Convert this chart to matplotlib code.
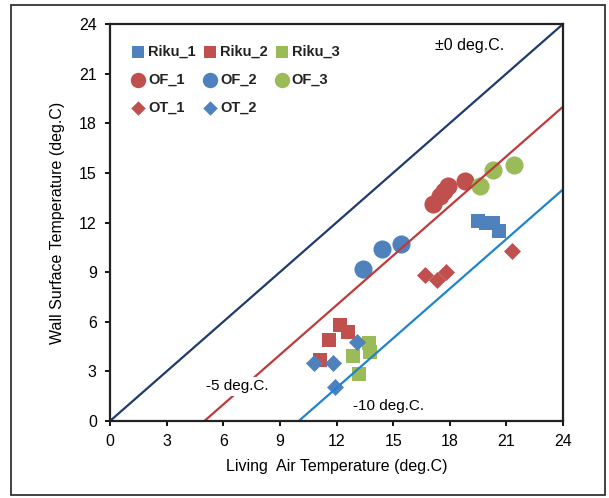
import matplotlib.pyplot as plt
from matplotlib.patches import Rectangle

plt.rcParams['font.family'] = ['Liberation Sans', 'DejaVu Sans']

# data (deg.C)
riku1_x = [19.5, 19.9, 20.3, 20.6]
riku1_y = [12.1, 12.0, 12.0, 11.5]
riku2_x = [12.2, 12.6, 11.6, 11.1]
riku2_y = [5.8, 5.4, 4.9, 3.7]
riku3_x = [13.7, 13.8, 12.9, 13.2]
riku3_y = [4.7, 4.2, 3.9, 2.85]
of1_x = [17.1, 17.5, 17.7, 17.9, 18.8]
of1_y = [13.1, 13.6, 13.9, 14.2, 14.5]
of2_x = [13.4, 14.4, 15.4]
of2_y = [9.2, 10.4, 10.7]
of3_x = [19.6, 20.3, 21.4]
of3_y = [14.2, 15.2, 15.5]
ot1_x = [16.7, 17.3, 17.8, 21.3]
ot1_y = [8.8, 8.5, 9.0, 10.3]
ot2_x = [10.8, 11.8, 13.1, 11.9]
ot2_y = [3.5, 3.5, 4.75, 2.05]

offsets = [0, -5, -10]
offset_labels = ['\u00b10 deg.C.', '-5 deg.C.', '-10 deg.C.']
ticks = [0, 3, 6, 9, 12, 15, 18, 21, 24]

blue = '#4f81bd'
red = '#c0504d'
green = '#9bbb59'
line_cols = ['#1f3b6e', '#c0393b', '#1f84cc']

fig = plt.figure(figsize=(6.09, 4.98), dpi=100)
ax = fig.add_axes([0.1806, 0.1546, 0.7439, 0.7972])

# reference lines y = x + offset, clipped to the 0..24 box
for off, c in zip(offsets, line_cols):
    x0 = max(0, -off)
    ax.plot([x0, 24], [x0 + off, 24 + off], color=c, lw=1.6, zorder=2)

sq = dict(marker='s', s=100, linewidths=0)
ci = dict(marker='o', s=170, linewidths=0)
di = dict(marker='D', s=75, linewidths=0)

h = {}
h['Riku_1'] = ax.scatter(riku1_x, riku1_y, color=blue, **sq)
h['Riku_2'] = ax.scatter(riku2_x, riku2_y, color=red, **sq)
h['Riku_3'] = ax.scatter(riku3_x, riku3_y, color=green, **sq)
h['OF_1'] = ax.scatter(of1_x, of1_y, color=red, **ci)
h['OF_2'] = ax.scatter(of2_x, of2_y, color=blue, **ci)
h['OF_3'] = ax.scatter(of3_x, of3_y, color=green, **ci)
h['OT_1'] = ax.scatter(ot1_x, ot1_y, color=red, **di)
h['OT_2'] = ax.scatter(ot2_x, ot2_y, color=blue, **di)

# labels with white boxes (they cut the lines like in the original)
box = dict(facecolor='white', edgecolor='none', pad=2)
ax.text(17.2, 22.7, offset_labels[0], fontsize=11.5, va='center', ha='left', bbox=box, zorder=4)
ax.text(5.1, 2.1, offset_labels[1], fontsize=11, va='center', ha='left', bbox=box, zorder=4)
ax.text(12.85, 0.9, offset_labels[2], fontsize=11, va='center', ha='left', bbox=box, zorder=4)

order = ['Riku_1', 'OF_1', 'OT_1', 'Riku_2', 'OF_2', 'OT_2', 'Riku_3', 'OF_3']
leg = ax.legend([h[k] for k in order], order, ncol=3, loc='upper left',
                bbox_to_anchor=(0.03, 0.962), frameon=False, borderaxespad=0,
                handletextpad=0.1, columnspacing=0.35, labelspacing=0.95,
                handlelength=1.2, markerscale=0.85,
                prop=dict(size=10.5, weight='bold'))
for t in leg.get_texts():
    t.set_color('#222222')

ax.set_xlim(0, 24)
ax.set_ylim(0, 24)
ax.set_xticks(ticks)
ax.set_yticks(ticks)
ax.tick_params(direction='out', length=3.5, width=1.3, labelsize=11.5, pad=6)
for s in ax.spines.values():
    s.set_linewidth(1.6)
    s.set_color('#222222')
ax.set_xlabel('Living  Air Temperature (deg.C)', fontsize=11.5, labelpad=7)
ax.set_ylabel('Wall Surface Temperature (deg.C)', fontsize=11.5, labelpad=10)

# outer frame around the figure
fig.patches.append(Rectangle((0.018, 0.006), 0.976, 0.984, transform=fig.transFigure,
                             fill=False, edgecolor='#333333', lw=1.3))

fig.savefig('out.png', dpi=100)
